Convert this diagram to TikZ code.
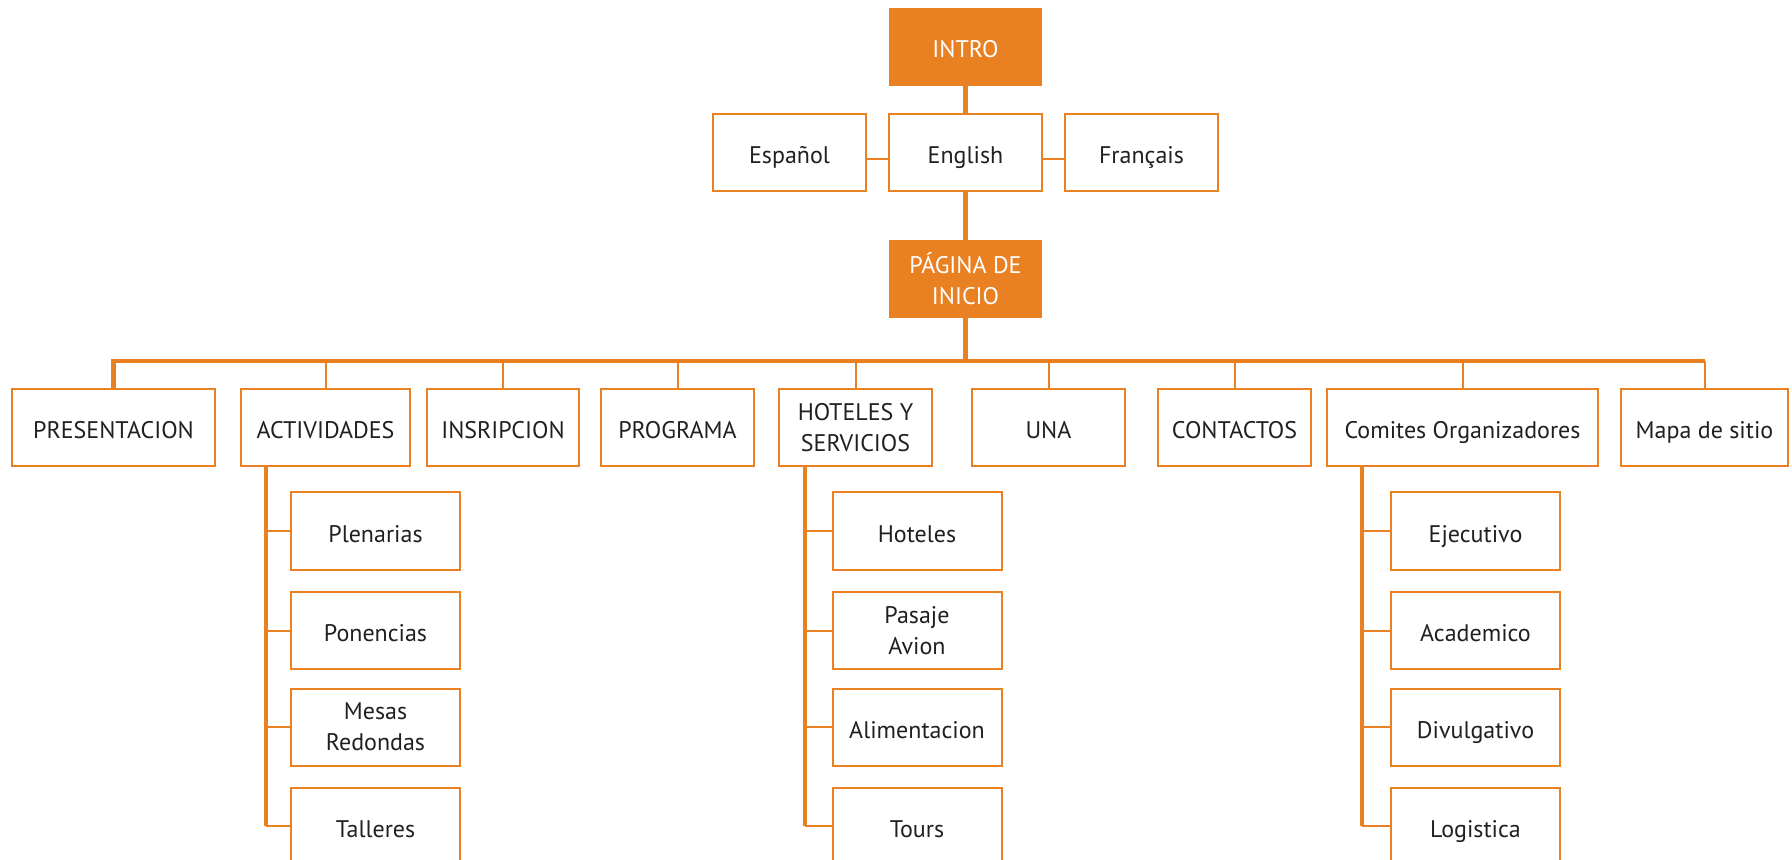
\documentclass[tikz,border=0pt]{standalone}
\usepackage{fontspec}
\setmainfont{PT Sans}
\usetikzlibrary{positioning, calc}
\definecolor{webOrange}{RGB}{233,128,34}
\definecolor{webText}{RGB}{35,31,32}
\tikzset{
    boxHead/.style={rectangle, fill=webOrange, text=white, inner sep=0pt, minimum width=76.5pt, minimum height=39pt, align=center, font=\fontsize{12}{15.5}\selectfont},
    boxItem/.style={rectangle, draw=webOrange, line width=1pt, fill=white, text=webText, inner sep=0pt, minimum height=38.5pt, text height=11pt, text depth=0pt, font=\fontsize{12}{15.5}\selectfont},
    twoLines/.style={text height=, text depth=, align=center},
    boxSub/.style={boxItem, minimum width=84.5pt},
    linkThin/.style={draw=webOrange, line width=1pt},
    linkThick/.style={draw=webOrange, line width=2.2pt},
}
\newcommand{\drawDrop}[1]{
    \draw[linkThin] (#1.north) -- (#1.north |- bus);
}
\newcommand{\drawStub}[2]{
    \draw[linkThin] (#2.west) -- (#2.west -| #1);
}

\begin{document}
\begin{tikzpicture}[x=0.5pt, y=-0.5pt]
    \clip (0,0) rectangle (1792,860);

    % cabecera
    \node[boxHead, text height=11pt, text depth=0pt] (intro) at (965.5,47) {INTRO};
    \node[boxItem, minimum width=76.5pt] (esp) at (789.5,152.5) {Español};
    \node[boxItem, minimum width=76.5pt] (eng) at (965.5,152.5) {English};
    \node[boxItem, minimum width=76.5pt] (fra) at (1141.5,152.5) {Français};
    \node[boxHead] (inicio) at (965.5,279) {PÁGINA DE\\INICIO};

    \draw[linkThick] (intro) -- (eng);
    \draw[linkThick] (eng) -- (inicio);
    \draw[linkThin] ([yshift=-3.3pt]esp.east) -- ([yshift=-3.3pt]eng.west);
    \draw[linkThin] ([yshift=-3.3pt]eng.east) -- ([yshift=-3.3pt]fra.west);

    % menu principal
    \coordinate (bus) at (0,361);
    \node[boxItem, minimum width=101.5pt] (pres) at (113.5,428) {PRESENTACION};
    \node[boxItem, minimum width=84.5pt] (act) at (325.5,428) {ACTIVIDADES};
    \node[boxItem, minimum width=76pt] (ins) at (503,428) {INSRIPCION};
    \node[boxItem, minimum width=76.5pt] (prog) at (677.5,428) {PROGRAMA};
    \node[boxItem, twoLines, minimum width=76.5pt] (hot) at (855.5,428) {HOTELES Y\\SERVICIOS};
    \node[boxItem, minimum width=76.5pt] (una) at (1048.5,428) {UNA};
    \node[boxItem, minimum width=76.5pt] (cont) at (1234.5,428) {CONTACTOS};
    \node[boxItem, minimum width=135.5pt] (com) at (1462.5,428) {Comites Organizadores};
    \node[boxItem, minimum width=83.5pt] (mapa) at (1704.5,428) {Mapa de sitio};

    \draw[linkThick] (inicio) -- (inicio.south |- bus);
    \draw[linkThick] (pres.north) |- (mapa.north |- bus);
    \drawDrop{act}
    \drawDrop{ins}
    \drawDrop{prog}
    \drawDrop{hot}
    \drawDrop{una}
    \drawDrop{cont}
    \drawDrop{com}
    \drawDrop{mapa}

    % submenus
    \node[boxSub] (plen) at (375.5,531) {Plenarias};
    \node[boxSub] (pone) at (375.5,630.5) {Ponencias};
    \node[boxSub, twoLines] (mesa) at (375.5,727) {Mesas\\Redondas};
    \node[boxSub] (tall) at (375.5,826) {Talleres};

    \node[boxSub] (hotl) at (917,531) {Hoteles};
    \node[boxSub, twoLines] (pasa) at (917,630.5) {Pasaje\\Avion};
    \node[boxSub] (alim) at (917,727) {Alimentacion};
    \node[boxSub] (tour) at (917,826) {Tours};

    \node[boxSub] (ejec) at (1475.5,531) {Ejecutivo};
    \node[boxSub] (acad) at (1475.5,630.5) {Academico};
    \node[boxSub] (divu) at (1475.5,727) {Divulgativo};
    \node[boxSub] (logi) at (1475.5,826) {Logistica};

    \coordinate (actT) at (266,467);
    \coordinate (hotT) at (805,467);
    \coordinate (comT) at (1362,467);
    \draw[linkThick] (actT) -- (actT |- tall.west);
    \draw[linkThick] (hotT) -- (hotT |- tour.west);
    \draw[linkThick] (comT) -- (comT |- logi.west);

    \drawStub{actT}{plen}
    \drawStub{actT}{pone}
    \drawStub{actT}{mesa}
    \drawStub{actT}{tall}
    \drawStub{hotT}{hotl}
    \drawStub{hotT}{pasa}
    \drawStub{hotT}{alim}
    \drawStub{hotT}{tour}
    \drawStub{comT}{ejec}
    \drawStub{comT}{acad}
    \drawStub{comT}{divu}
    \drawStub{comT}{logi}

\end{tikzpicture}
\end{document}
